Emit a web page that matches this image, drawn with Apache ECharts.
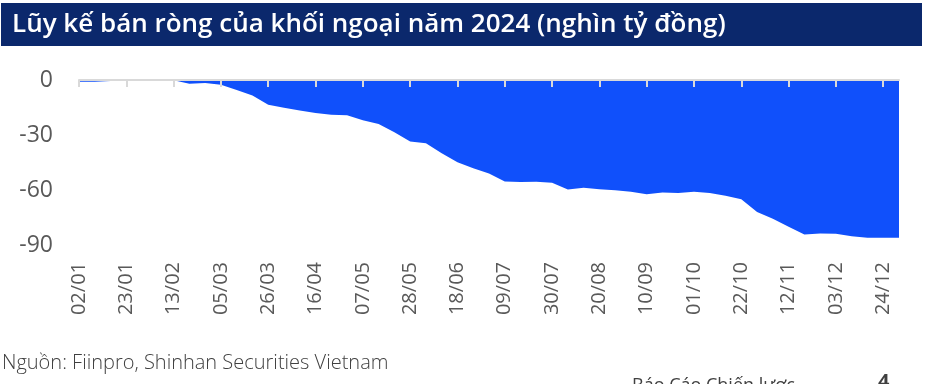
<!DOCTYPE html>
<html><head><meta charset="utf-8">
<script src="https://cdn.jsdelivr.net/npm/echarts@6/dist/echarts.min.js"></script>
<style>html,body{margin:0;padding:0;background:#fff}#c{width:930px;height:384px}</style>
</head><body><div id="c"></div>
<script>
const titleText = 'Lũy kế bán ròng của khối ngoại năm 2024 (nghìn tỷ đồng)';
const sourceText = 'Nguồn: Fiinpro, Shinhan Securities Vietnam';
const footerText = 'Báo Cáo Chiến lược';
const pageNo = '4';
// weekly dates, 2024
const dates = ['02/01','09/01','16/01','23/01','30/01','06/02','13/02','20/02','27/02','05/03','12/03','19/03','26/03','02/04','09/04','16/04','23/04','30/04','07/05','14/05','21/05','28/05','04/06','11/06','18/06','25/06','02/07','09/07','16/07','23/07','30/07','06/08','13/08','20/08','27/08','03/09','10/09','17/09','24/09','01/10','08/10','15/10','22/10','29/10','05/11','12/11','19/11','26/11','03/12','10/12','17/12','24/12','31/12'];
const cumNetSell = [-1.0,-1.0,-0.5,0,0,0,-0.2,-2.0,-1.6,-2.6,-5.5,-8.5,-13.5,-15.2,-16.6,-18.0,-19.0,-19.2,-22.0,-24.0,-28.5,-33.5,-34.5,-40.0,-44.8,-48.2,-51.0,-55.3,-55.7,-55.5,-56.0,-59.7,-58.8,-59.6,-60.2,-61.0,-62.3,-61.3,-61.6,-61.0,-61.6,-63.2,-65.0,-72.0,-75.7,-80.0,-84.3,-83.7,-83.9,-85.2,-86.0,-86.0,-86.0];
const yTicks = [0,-30,-60,-90];

const chart = echarts.init(document.getElementById('c'), null, {renderer:'canvas'});
const font = 'Open Sans';
chart.setOption({
  animation:false,
  grid:{left:79,right:31,top:80,bottom:139,containLabel:false},
  xAxis:[{
    type:'category',data:dates,boundaryGap:false,position:'top',
    axisLine:{show:true,lineStyle:{color:'#D9D9D9',width:2}},
    axisTick:{show:true,inside:true,length:7,interval:2,lineStyle:{color:'#D9D9D9',width:2}},
    axisLabel:{show:false},splitLine:{show:false},z:10
  },{
    type:'category',data:dates,boundaryGap:false,position:'bottom',
    axisLine:{show:false},axisTick:{show:false},
    axisLabel:{show:true,interval:2,rotate:90,margin:17,color:'#595959',fontFamily:font,fontSize:20}
  }],
  yAxis:{
    type:'value',min:-90,max:0,interval:30,
    axisLine:{show:false},axisTick:{show:false},splitLine:{show:false},
    axisLabel:{show:true,margin:26,color:'#595959',fontFamily:font,fontSize:23,
      formatter:v=>yTicks.includes(v)?String(v):''}
  },
  series:[{
    type:'line',data:cumNetSell,xAxisIndex:0,symbol:'none',
    lineStyle:{width:0},areaStyle:{color:'#1050FB',opacity:1,origin:'end'},z:2
  }],
  graphic:[
    {type:'rect',shape:{x:1,y:3,width:921,height:43},style:{fill:'#0B286C'},z:0},
    {type:'text',x:12,y:25,style:{text:titleText,fill:'#fff',font:'600 26px "Open Sans"',textVerticalAlign:'middle'},z:1},
    {type:'text',x:2,y:363,style:{text:sourceText,fill:'#404040',font:'300 20px "Open Sans"',textVerticalAlign:'middle'}},
    {type:'text',x:632,y:377,style:{text:footerText,fill:'#404040',font:'18px "Open Sans"',textVerticalAlign:'top'}},
    {type:'text',x:878,y:372,style:{text:pageNo,fill:'#404040',font:'bold 20px "Open Sans"',textVerticalAlign:'top'}}
  ]
});
</script></body></html>
